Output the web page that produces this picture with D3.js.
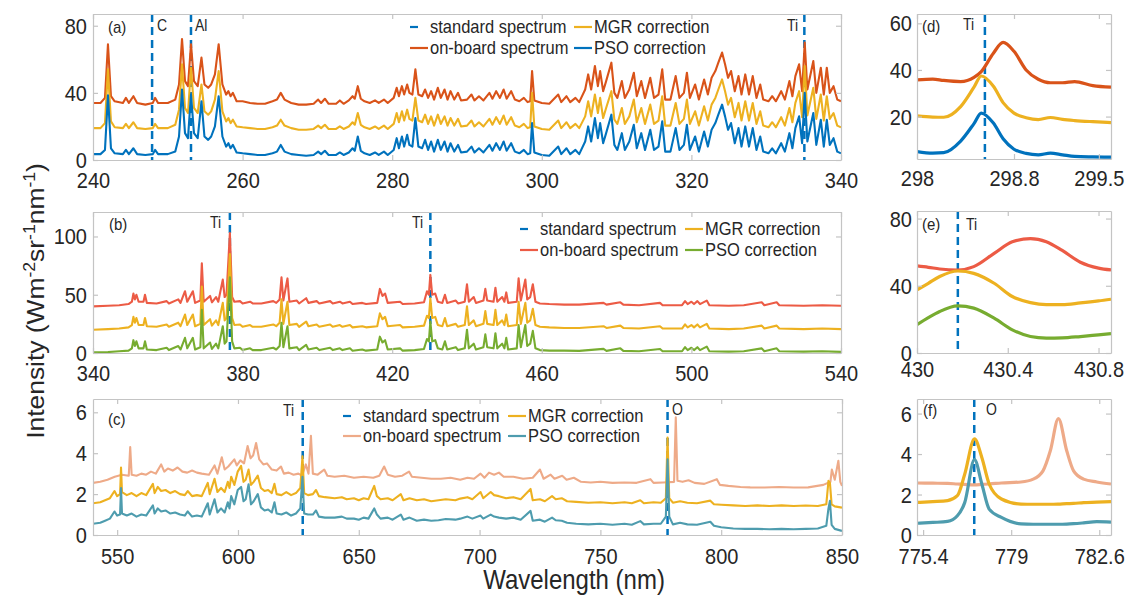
<!DOCTYPE html>
<html>
<head>
<meta charset="utf-8">
<script src="https://cdn.jsdelivr.net/npm/d3@7"></script>
<style>
body { margin: 0; background: #fff; }
text { font-family: Arial, "Liberation Sans", Helvetica, sans-serif; fill: #262626; }
</style>
</head>
<body>
<svg id="chart" width="1133" height="596"></svg>
<script>
// ---------- data ----------
// (a) 240-340 nm
var aWave = [240,241,241.6,242,242.4,242.9,244,244.4,244.8,245.4,
  245.9,247,248,248.3,248.7,250,251,251.5,251.9,252.3,
  252.7,253.1,253.5,254,254.5,254.9,255.4,255.8,256.3,256.8,
  257.3,257.8,258.1,258.4,258.7,259.2,260,261,262,263,
  264,264.6,265.1,265.6,266.5,267.5,268.5,269.5,270.1,270.5,
  271,271.5,272.5,273,273.5,274.2,274.7,275,275.4,275.8,
  276.3,277,277.7,278.2,278.9,279.4,280.2,280.6,280.9,281.3,
  281.6,282,282.3,282.7,283.1,283.5,284,284.4,284.8,285.2,
  285.6,286.1,286.5,287,287.4,287.8,288.3,288.8,289.2,290,
  290.6,291,291.6,292.2,293,293.4,293.9,294.4,294.9,295.3,
  295.9,296.4,297,297.6,298.1,298.45,298.7,299,300,301,
  302.2,302.6,303.3,303.8,304.5,305,305.8,306.2,306.6,307.1,
  307.5,307.8,308.2,308.6,309.3,309.7,310.1,310.7,311.1,311.7,
  312.3,312.7,313.3,313.8,314.5,315,315.6,316.1,316.5,317.2,
  317.9,318.4,319,319.4,319.8,320.5,321,321.7,322.2,322.7,
  323.2,323.6,324.1,324.5,324.9,325.3,325.8,326.3,326.7,327.2,
  327.7,328.2,328.7,329.2,329.6,330.3,330.8,331.3,332,332.5,
  333.1,333.5,333.9,334.4,334.8,335.15,335.5,336.3,336.7,337.3,
  337.7,338.1,338.5,339,339.5,340];
var aOnboard = [34,34,37,69,38,35,34,37,34,38,
  34,33,34,37,34,34,36,45,72,47,
  44,69,47,44,61,45,43,45,51,69,
  45,39,41,38,40,35,35,34,33.5,33.5,
  35,36,40,36,34,33,33,33.5,36,34,
  36.5,33.5,33.5,35.5,33.5,35.5,38,36.5,44,36.5,
  35,34,35.5,34,36,34,37,43,38,44,
  39,45,40,39,54,39,38,42,37,41,
  36,43,37,42,36,41,36,40,35.5,36,
  39,35.5,38,35.5,40,36.5,41,37,42,36.5,
  41,36,35,37,34.5,35,53,35.5,34,33.5,
  39,34.5,38,34.5,37,34.5,42,51,42,56,
  44,53,41,47,58,40,37,47,37,42,
  52,38,47,37,49,37,39,54,36,36,
  50,37,40,52,37,45,36,48,39,49,
  53,58,64,57,49,53,41,50,39,51,
  39,50,37,45,36,35,38,35,41,36,
  47,38,50,57,41,70,42,59,40,55,
  39,55,40,44,36,35];
var aMGR = [19,19,22,54,23,19.5,19,21.5,19,22.5,
  19,18.5,19,21.5,19,19,21,30,57,31,
  28,55,31,28,45,29,27,29,36,53,
  29,23,25,22,24,20,19.5,19,18.5,18.5,
  19.5,20.5,24,20.5,19,18,18,18.5,20.5,19,
  21,18.5,18.5,20,18.5,20,22.5,21,28,21,
  19.5,18.5,20,18.5,20.5,18.5,21.5,28,22.5,29,
  23.5,30,24.5,23.5,37,23.5,22.5,27,21.5,26,
  20.5,27,21.5,26,20.5,25,20.5,24.5,20,20.5,
  23.5,20,22.5,20,24.5,21,25.5,21.5,26.5,21,
  25.5,20.5,19.5,21.5,19,19.5,40,20,18.5,18,
  23.5,19,22.5,19,21.5,19,26,35,26,39,
  28,37,25,31,41,24,21.5,31,21.5,26,
  36,22.5,31,21.5,33,21.5,23.5,38,20.5,20.5,
  34,21.5,24.5,36,21.5,29,20.5,32,23.5,33,
  37,42,48,41,33,37,25.5,34,23.5,35,
  23.5,34,21.5,29,20.5,19.5,22.5,19.5,25.5,20.5,
  31,22.5,34,41,25.5,56,26.5,43,24.5,39,
  23.5,38,24.5,28,20.5,19.5];
var aPSO = [3.5,3.5,6,38.5,7,4,3.5,6,3.5,7,
  3.5,3,3.5,6,3.5,3.5,5,14,42,16,
  13,39,16,13,35,14,12,14,20,38,
  14,8,10,7,9,4.5,4,3.5,3,3,
  4,5,9,5,3.5,3,2.5,3,5,3.5,
  5.5,3,3,4.5,3,4.5,7,5.5,14,5.5,
  4,3,4.5,3,5,3,6,13,7,14,
  8,15,9,8,25,8,7,12,6,11,
  5,12,6,11,5,10,5,9,4.5,5,
  8,4.5,7,4.5,9,5.5,10,6,11,5.5,
  10,5,4,6,3.5,4,22,4.5,3,2.5,
  8,3.5,7,3.5,6,3.5,11,20,11,25,
  13,22,10,16,27,9,6,16,6,11,
  21,7,16,6,18,6,8,23,5,5,
  19,6,9,21,6,14,5,17,8,18,
  22,27,33,26,18,22,10,19,8,20,
  8,19,6,14,5,4,7,4,10,5,
  16,7,19,26,10,40,11,28,9,24,
  8,24,9,13,5,4];
var aLines = [247.9, 253.1, 335.1];

// (b) 340-540 nm
var bWave = [340,344,347,349.5,350.4,350.8,351.2,351.6,352.2,353.5,
  353.9,354.4,357,359.7,360.3,362.8,363.4,364.6,365.2,366.7,
  367.3,368.7,369.1,369.6,371.3,371.8,372.9,373.5,374.7,375.2,
  375.7,376.6,377.2,377.8,379.3,380,382,382.7,385,388.2,
  389,389.9,390.4,390.9,392,392.5,394.5,395.1,397,397.6,
  399.8,400.5,403.4,404.1,406,406.7,408.7,409.4,412,413,
  416,416.7,417.4,418.1,418.8,422.1,422.8,426,428.5,429.3,
  429.8,430.2,430.7,431.5,432.2,433.4,434.1,434.7,437,437.6,
  439.4,440,440.5,441.8,442.4,444.4,444.9,445.4,447.1,447.6,
  448.1,449.4,450,450.5,451,453.3,453.8,454.4,455.6,456.1,
  456.9,457.6,458.3,459.5,462,466,470,476.5,477.3,481,
  481.8,486,491.6,492.3,497.5,498.3,499,500,500.7,501.6,
  502.3,504.1,504.8,510,514,518.8,519.5,522.8,523.5,530,
  535,540];
var bOnboard = [40,40.5,41,42,44,51,46,50,44,44,
  50,43,42.5,44.5,42.5,46,43,53,44,53,
  43,45,77,44,49,43.5,48,44,63,48,
  50,103,48,44,44.5,42.5,44,42.5,42.5,44.5,
  43,46,65,45,64,44,45,42.5,47,43,
  44.5,42.5,44.5,42.5,44,42.5,44,42,43,42,
  43,55,49,51,43,44,42,42.5,43.5,53,
  50,67,50,51,44,43,50,43,45,42.5,
  44,59,44,48,43,45,55,45,44,56,
  44,48,44,52,43,44,64,45,63,46,
  48,59,44,42.5,42,41.5,41.5,43,41.5,43.5,
  41.5,41,43,41,41,44.5,42,44,42,44.5,
  42,45,41,40.5,41,43.5,41,43.5,41,40.5,
  41,40.5];
var bMGR = [20,20.5,21,22,24,31,26,30,24,24,
  30,23,22.5,24.5,22.5,26,23,33,24,33,
  23,25,57,24,29,23.5,28,24,43,28,
  30,85,30,24,24.5,22.5,24,22.5,22.5,24.5,
  23,26,46,25,44,24,25,22.5,27,23,
  24.5,22.5,24.5,22.5,24,22.5,24,22,23,22,
  23,34,29,31,23,24,22,22.5,23.5,32,
  30,47,30,31,24,23,30,23,25,22.5,
  24,40,24,28,23,25,36,25,24,37,
  24,28,24,33,23,24,44,25,43,26,
  28,38,24,22.5,22,21.5,21.5,23,21.5,23.5,
  21.5,21,23,21,21,24.5,22,24,22,24.5,
  22,25,21,20.5,21,23.5,21,23.5,21,20.5,
  21,20.5];
var bPSO = [0.5,0.8,1.5,2,4,11,6,10,4,4,
  10,3,2.5,4.5,2.5,6,3,13,4,13,
  3,5,37,4,9,3.5,8,4,23,8,
  10,65,10,4,4.5,2.5,4,2.5,2.5,4.5,
  3,6,26,5,23,4,5,2.5,7,3,
  4.5,2.5,4.5,2.5,4,2.5,4,2,3,2,
  3,14,9,11,3,4,2,2.5,3.5,12,
  10,27,10,11,4,3,10,3,5,2.5,
  4,20,4,8,3,5,16,5,4,17,
  4,8,4,13,3,4,24,5,24,6,
  8,19,4,2.5,2,2,1.8,3.5,1.8,4,
  1.8,1.5,3.5,1.5,1.5,5,2.5,4.5,2.5,5,
  2.5,5.5,1.5,1.2,1.5,4,1.5,4,1.5,1.2,
  1.5,1];
var bLines = [376.6, 430.2];

// (c) 540-850 nm
var cWave = [540,543,545,547,548.9,550,551.2,551.6,552,554,
  556,558,560,562,564.8,565.5,566.8,568.2,570,572,
  574,576,578,579.2,581,583,585,587.5,588.3,590.3,
  591.5,593,594.5,595.8,596.5,597.2,598.5,599.9,601.3,602.3,
  603.2,604.4,605.4,606.5,608.2,609.5,611,612.5,614,615.1,
  616,618,620,622,624,625.8,626.7,627.4,629,631,
  632.3,633.5,636,640,643,645,648,650,652,654,
  656.4,657.5,659,662,664,667.4,668.5,671,674,677,
  680,683,686,690,692,695,697,700.4,701.5,704.6,
  706,708,711,714,717,721.1,722,725,727,730,
  731.5,734,736.2,740,745,750,755,760,763,766.5,
  768,772,775,777.1,777.8,778.5,780,783,786,790,
  795.5,797,800,805,810,815,820,825,830,835,
  840,843.5,844.4,845,845.7,847,850];
var cMGR = [1.55,1.6,1.7,1.8,2.15,1.9,2,3.3,2.1,1.95,
  2.05,1.9,2.05,1.95,2.5,2.05,2.35,2.15,2.2,2.05,
  2.15,2,1.95,2.15,1.9,1.95,1.9,2.55,2,2.75,
  2.1,2.3,2.1,2.6,2.3,2.85,2.45,3.1,3.38,2.6,
  2.7,3.2,2.45,2.6,2.9,2.3,2.15,2.2,2.05,2.5,
  2,1.95,2.1,1.95,2.05,2.3,3.85,2.05,1.95,2,
  2.2,1.9,1.85,1.8,1.85,1.75,1.8,1.7,1.8,1.75,
  2.4,1.9,1.75,1.8,1.7,2,1.7,1.8,1.7,1.75,
  1.65,1.7,1.75,1.7,1.78,1.85,1.75,2.1,1.8,2.1,
  1.95,1.9,1.8,1.85,1.75,2.25,1.7,1.75,1.65,1.9,
  1.75,1.8,1.65,1.62,1.58,1.6,1.55,1.6,1.55,1.7,
  1.55,1.6,1.58,1.8,4.77,1.8,1.58,1.65,1.58,1.55,
  1.68,1.5,1.48,1.45,1.42,1.45,1.42,1.45,1.42,1.44,
  1.42,1.5,2.65,2.55,1.5,1.4,1.34];
var cPSO = [0.55,0.6,0.7,0.8,1.15,0.95,1,2.3,1.05,0.95,
  1.05,0.9,1,0.95,1.45,1.05,1.3,1.15,1.2,1.05,
  1.1,1,0.95,1.15,0.9,0.95,0.9,1.55,1,1.75,
  1.1,1.3,1.1,1.6,1.3,1.9,1.5,2.2,2.35,1.65,
  1.75,2.48,1.5,1.65,2,1.35,1.2,1.25,1.1,1.6,
  1.05,1,1.1,0.95,1.05,1.3,2.85,1.05,1,1,
  1.2,0.9,0.85,0.85,0.9,0.8,0.8,0.75,0.85,0.8,
  1.3,1,0.8,0.85,0.75,1,0.75,0.85,0.7,0.75,
  0.7,0.72,0.78,0.75,0.8,0.9,0.8,0.95,0.8,1,
  0.9,0.85,0.8,0.85,0.75,1.18,0.7,0.75,0.65,0.85,
  0.72,0.7,0.6,0.55,0.52,0.55,0.5,0.55,0.5,0.68,
  0.52,0.55,0.55,0.9,3.7,0.9,0.52,0.6,0.52,0.5,
  0.65,0.45,0.38,0.32,0.3,0.3,0.28,0.3,0.28,0.3,
  0.32,0.45,1.3,1.67,0.5,0.3,0.2];
// the on-board spectrum is shifted in wavelength, so it has its own grid
var cWaveOnboard = [540,543,546,549,552,554.8,555.4,556,558,560,
  562,564,566,568.2,569.5,571,573,575,577,579,
  581,583,585,588,590.3,591.5,593.3,594.5,596,598.5,
  599.5,601,602.5,604,605.2,606.3,607.5,608.8,610.5,612,
  614,616,617.8,619,621,623,625,626.5,628.1,629.2,
  630.2,631,633,635.7,637,640,644,648,652,656,
  658.5,660.5,662,665,668,670.8,672,676,680,684,
  688,692,695,697.7,700.4,702,703.9,706,708,710,
  714,718,722,725,726.5,729.4,731,734.2,736,739,
  742,746,750,755,760,765,770.7,772,776,780.5,
  781.2,781.9,784,786.5,789,793,798.2,799.5,803,808,
  812,818,824,830,836,842.3,845.2,845.8,847,848.5,
  849.3,850];
var cOnboard = [2.55,2.6,2.7,2.85,2.95,2.9,4.3,2.95,2.9,3,
  2.95,3.1,3,3.45,3.1,3.25,3.15,3.3,3.1,3.05,
  3.15,3.05,3,2.95,3.4,3,3.8,3.2,3.35,3.7,
  3.4,3.65,3.5,4.35,3.75,3.9,4.5,3.7,3.45,3.5,
  3.2,3.15,3.35,3,3.05,2.95,3,2.9,3.45,3,
  4.85,3,2.95,3.2,2.9,2.85,2.9,2.8,2.85,2.8,
  2.9,3.35,2.95,2.85,2.9,3.1,2.85,2.8,2.75,2.75,
  2.8,2.7,2.8,2.75,3,2.8,3.05,2.95,3.05,2.85,
  2.85,2.75,2.8,3.2,2.75,2.95,2.75,2.9,2.7,2.8,
  2.6,2.57,2.6,2.55,2.57,2.55,2.73,2.55,2.57,2.6,
  5.75,2.65,2.6,2.68,2.55,2.5,2.73,2.45,2.4,2.35,
  2.33,2.32,2.35,2.32,2.33,2.45,2.6,3.2,2.7,3.63,
  2.6,2.4];
var cLines = [626.8, 777.8];

// (d) Ti 298.5 nm detail
var dWave = [298,298.13,298.22,298.36,298.47,298.53,298.63,298.71,298.8,298.9,299,299.1,299.2,299.3,299.45,299.6];
var dOnboard = [35.7,36.1,35.5,35,36.8,39.3,47.2,51.8,48,40,36,34.5,34.5,35,33.3,32.6];
var dMGR = [20.3,19.8,19.7,24.3,32.6,37.4,33,26,21.5,19.5,18.7,19.6,18.8,18.3,17.8,17.4];
var dPSO = [5,4.3,4.5,9.5,17,21.5,17.2,10.5,6,4.2,3.6,4.3,3.6,2.9,2.7,2.6];
var dLines = [298.56];

// (e) Ti 430.2 nm detail
var eWave = [430,430.05,430.1,430.18,430.25,430.34,430.42,430.5,430.57,430.64,430.72,430.8,430.855];
var eOnboard = [51.8,51,50,49.4,51.4,59.3,66.2,68.1,66.2,61,54,50.5,49.4];
var eMGR = [37.5,41.5,45.5,48.8,47.4,41.5,33.6,30,28.8,28.8,29.8,31,32];
var ePSO = [16.8,21,24.7,28,26.7,20.7,13.8,9.8,8.9,9,9.8,10.8,11.5];
var eLines = [430.18];

// (f) O 777.5 nm detail
var fWave = [775.15,775.8,776.4,776.8,777.1,777.5,777.8,778.1,778.6,779.4,779.9,780.3,780.6,780.93,781.27,781.55,781.96,782.5,783.08];
var fOnboard = [2.57,2.56,2.55,2.52,2.5,2.48,2.5,2.52,2.57,2.62,2.76,3.17,4.16,5.75,4.16,3.17,2.76,2.62,2.52];
var fMGR = [1.61,1.65,1.7,1.94,3,4.75,3.83,2.52,1.78,1.53,1.52,1.52,1.52,1.53,1.55,1.56,1.6,1.62,1.65];
var fPSO = [0.58,0.62,0.67,0.95,1.6,3.72,2.52,1.28,0.87,0.55,0.53,0.53,0.53,0.53,0.54,0.56,0.6,0.66,0.64];
var fLines = [777.49];

// tick values
var aXTicks = [240,260,280,300,320,340], aYTicks = [0,40,80];
var bXTicks = [340,380,420,460,500,540], bYTicks = [0,50,100];
var cXTicks = [550,600,650,700,750,800,850], cYTicks = [0,2,4,6];
var dXTicks = [298,298.8,299.5], dYTicks = [20,40,60];
var eXTicks = [430,430.4,430.8], eYTicks = [0,40,80];
var fXTicks = [775.4,779,782.6], fYTicks = [0,2,4,6];

// ---------- colours ----------
var STD = "#0072BD", MGR = "#EDB120";
var A_ON = "#D95319", A_PSO = "#0072BD";
var B_ON = "#EC5B45", B_PSO = "#77AC30";
var C_ON = "#EEAA88", C_PSO = "#4E9CAE";
var BOX = "#C4C4C4";
var SY = 1.13; // the original figure is slightly stretched vertically

var svg = d3.select("#chart");
svg.append("rect").attr("width", 1133).attr("height", 596).attr("fill", "#fff");
var defs = svg.append("defs");

function label(g, x, y, str, size, anchor) {
	return g.append("text")
		.attr("transform", "translate(" + x + "," + y + ") scale(1," + SY + ")")
		.attr("font-size", size)
		.attr("text-anchor", anchor || "start")
		.text(str);
}

function drawPanel(p) {
	var x = d3.scaleLinear().domain(p.xDomain).range([p.left, p.right]);
	var y = d3.scaleLinear().domain(p.yDomain).range([p.bottom, p.top]);
	var g = svg.append("g");

	defs.append("clipPath").attr("id", "clip-" + p.id)
		.append("rect")
		.attr("x", p.left).attr("y", p.top)
		.attr("width", p.right - p.left).attr("height", p.bottom - p.top);

	var plot = g.append("g").attr("clip-path", "url(#clip-" + p.id + ")");

	// standard spectrum lines (dashed)
	p.lines.forEach(function(m) {
		plot.append("line")
			.attr("x1", x(m)).attr("x2", x(m))
			.attr("y1", p.top).attr("y2", p.bottom)
			.attr("stroke", STD)
			.attr("stroke-width", 2.5)
			.attr("stroke-dasharray", "8,5");
	});

	p.series.forEach(function(s) {
		var line = d3.line()
			.x(function(d, i) { return x(s.wave[i]); })
			.y(function(d) { return y(d); })
			.curve(p.smooth ? d3.curveMonotoneX : d3.curveLinear);
		plot.append("path")
			.datum(s.values)
			.attr("fill", "none")
			.attr("stroke", s.color)
			.attr("stroke-width", p.smooth ? 3.2 : 2.1)
			.attr("stroke-linejoin", "round")
			.attr("d", line);
	});

	// box with inward ticks
	var xb = g.append("g").attr("transform", "translate(0," + p.bottom + ")")
		.call(d3.axisBottom(x).tickValues(p.xTicks).tickSizeInner(-5).tickSizeOuter(0)
			.tickFormat(function(d) { return d; }));
	xb.selectAll(".tick text")
		.attr("y", 0).attr("dy", null)
		.attr("transform", "translate(0," + (p.xPad + 16.2) + ") scale(1," + SY + ")");

	var yl = g.append("g").attr("transform", "translate(" + p.left + ",0)")
		.call(d3.axisLeft(y).tickValues(p.yTicks).tickSizeInner(-5).tickSizeOuter(0)
			.tickFormat(function(d) { return d; }));
	yl.selectAll(".tick text")
		.attr("x", 0).attr("dy", null)
		.attr("transform", "translate(" + (-p.yPad) + ",7.5) scale(1," + SY + ")");

	g.append("g").attr("transform", "translate(0," + p.top + ")")
		.call(d3.axisTop(x).tickValues(p.xTicks).tickSizeInner(-5).tickSizeOuter(0).tickFormat(""));
	g.append("g").attr("transform", "translate(" + p.right + ",0)")
		.call(d3.axisRight(y).tickValues(p.yTicks).tickSizeInner(-5).tickSizeOuter(0).tickFormat(""));

	g.selectAll(".domain").attr("stroke", BOX).attr("stroke-width", 1.2);
	g.selectAll(".tick line").attr("stroke", BOX).attr("stroke-width", 1.2);
	g.selectAll(".tick text")
		.attr("font-size", 20)
		.attr("font-family", "Arial, 'Liberation Sans', Helvetica, sans-serif")
		.attr("fill", "#262626");

	// annotations
	p.notes.forEach(function(n) { label(g, n[0], n[1], n[2], n[3]); });

	// legend
	if (p.legend) {
		var L = p.legend;
		var rows = [L.y1, L.y2];
		L.items.forEach(function(it) {
			var ly = rows[it.row];
			var sx = it.col === 0 ? L.s1 : L.s2;
			g.append("line")
				.attr("x1", sx).attr("x2", sx + (it.dash ? 8 : 18))
				.attr("y1", ly).attr("y2", ly)
				.attr("stroke", it.color).attr("stroke-width", 2.2);
			label(g, sx + 20, ly + 5.5, it.text, 16.5);
		});
	}
}

drawPanel({
	id: "a", left: 93, right: 841, top: 14, bottom: 160,
	xDomain: [240, 340], yDomain: [0, 87], xTicks: aXTicks, yTicks: aYTicks, xPad: 12, yPad: 6,
	lines: aLines,
	series: [
		{wave: aWave, values: aOnboard, color: A_ON},
		{wave: aWave, values: aMGR, color: MGR},
		{wave: aWave, values: aPSO, color: A_PSO}
	],
	notes: [[108, 33, "(a)", 15], [157, 31, "C", 14], [195, 31, "Al", 14], [787, 31, "Ti", 14]],
	legend: {y1: 27, y2: 48, s1: 410, s2: 574, items: [
		{row: 0, col: 0, dash: true, color: STD, text: "standard spectrum"},
		{row: 1, col: 0, color: A_ON, text: "on-board spectrum"},
		{row: 0, col: 1, color: MGR, text: "MGR correction"},
		{row: 1, col: 1, color: A_PSO, text: "PSO correction"}
	]}
});

drawPanel({
	id: "b", left: 93, right: 841, top: 212, bottom: 353,
	xDomain: [340, 540], yDomain: [0, 121], xTicks: bXTicks, yTicks: bYTicks, xPad: 12, yPad: 6,
	lines: bLines,
	series: [
		{wave: bWave, values: bOnboard, color: B_ON},
		{wave: bWave, values: bMGR, color: MGR},
		{wave: bWave, values: bPSO, color: B_PSO}
	],
	notes: [[109, 230, "(b)", 15], [210, 228, "Ti", 14], [412, 228, "Ti", 14]],
	legend: {y1: 229, y2: 250, s1: 520, s2: 685, items: [
		{row: 0, col: 0, dash: true, color: STD, text: "standard spectrum"},
		{row: 1, col: 0, color: B_ON, text: "on-board spectrum"},
		{row: 0, col: 1, color: MGR, text: "MGR correction"},
		{row: 1, col: 1, color: B_PSO, text: "PSO correction"}
	]}
});

drawPanel({
	id: "c", left: 93, right: 842, top: 399, bottom: 535,
	xDomain: [540, 850], yDomain: [0, 6.65], xTicks: cXTicks, yTicks: cYTicks, xPad: 13, yPad: 6,
	lines: cLines,
	series: [
		{wave: cWaveOnboard, values: cOnboard, color: C_ON},
		{wave: cWave, values: cMGR, color: MGR},
		{wave: cWave, values: cPSO, color: C_PSO}
	],
	notes: [[108, 425, "(c)", 15], [283, 416, "Ti", 14], [672, 415, "O", 14]],
	legend: {y1: 416, y2: 436, s1: 343, s2: 508, items: [
		{row: 0, col: 0, dash: true, color: STD, text: "standard spectrum"},
		{row: 1, col: 0, color: C_ON, text: "on-board spectrum"},
		{row: 0, col: 1, color: MGR, text: "MGR correction"},
		{row: 1, col: 1, color: C_PSO, text: "PSO correction"}
	]}
});

drawPanel({
	id: "d", left: 917, right: 1111, top: 14, bottom: 159, smooth: true,
	xDomain: [298, 299.6], yDomain: [1.8, 64], xTicks: dXTicks, yTicks: dYTicks, xPad: 11, yPad: 5,
	lines: dLines,
	series: [
		{wave: dWave, values: dOnboard, color: A_ON},
		{wave: dWave, values: dMGR, color: MGR},
		{wave: dWave, values: dPSO, color: A_PSO}
	],
	notes: [[922, 32, "(d)", 15], [963, 30, "Ti", 14]]
});

drawPanel({
	id: "e", left: 917, right: 1111, top: 211, bottom: 353, smooth: true,
	xDomain: [430, 430.855], yDomain: [0, 84.5], xTicks: eXTicks, yTicks: eYTicks, xPad: 8, yPad: 5,
	lines: eLines,
	series: [
		{wave: eWave, values: eOnboard, color: B_ON},
		{wave: eWave, values: eMGR, color: MGR},
		{wave: eWave, values: ePSO, color: B_PSO}
	],
	notes: [[922, 230, "(e)", 15], [966, 230, "Ti", 14]]
});

drawPanel({
	id: "f", left: 917, right: 1111, top: 399, bottom: 535, smooth: true,
	xDomain: [775.15, 783.08], yDomain: [0, 6.72], xTicks: fXTicks, yTicks: fYTicks, xPad: 13, yPad: 5,
	lines: fLines,
	series: [
		{wave: fWave, values: fOnboard, color: C_ON},
		{wave: fWave, values: fMGR, color: MGR},
		{wave: fWave, values: fPSO, color: C_PSO}
	],
	notes: [[923, 416, "(f)", 15], [986, 415, "O", 14]]
});

// axis titles
label(svg, 574, 589, "Wavelength (nm)", 24, "middle");

var yt = svg.append("text")
	.attr("transform", "translate(44,301) scale(1,1.1) rotate(-90)")
	.attr("font-size", 24)
	.attr("text-anchor", "middle");
yt.append("tspan").text("Intensity (Wm");
yt.append("tspan").attr("font-size", 16).attr("dy", -9).text("-2");
yt.append("tspan").attr("dy", 9).text("sr");
yt.append("tspan").attr("font-size", 16).attr("dy", -9).text("-1");
yt.append("tspan").attr("dy", 9).text("nm");
yt.append("tspan").attr("font-size", 16).attr("dy", -9).text("-1");
yt.append("tspan").attr("dy", 9).text(")");
</script>
</body>
</html>
